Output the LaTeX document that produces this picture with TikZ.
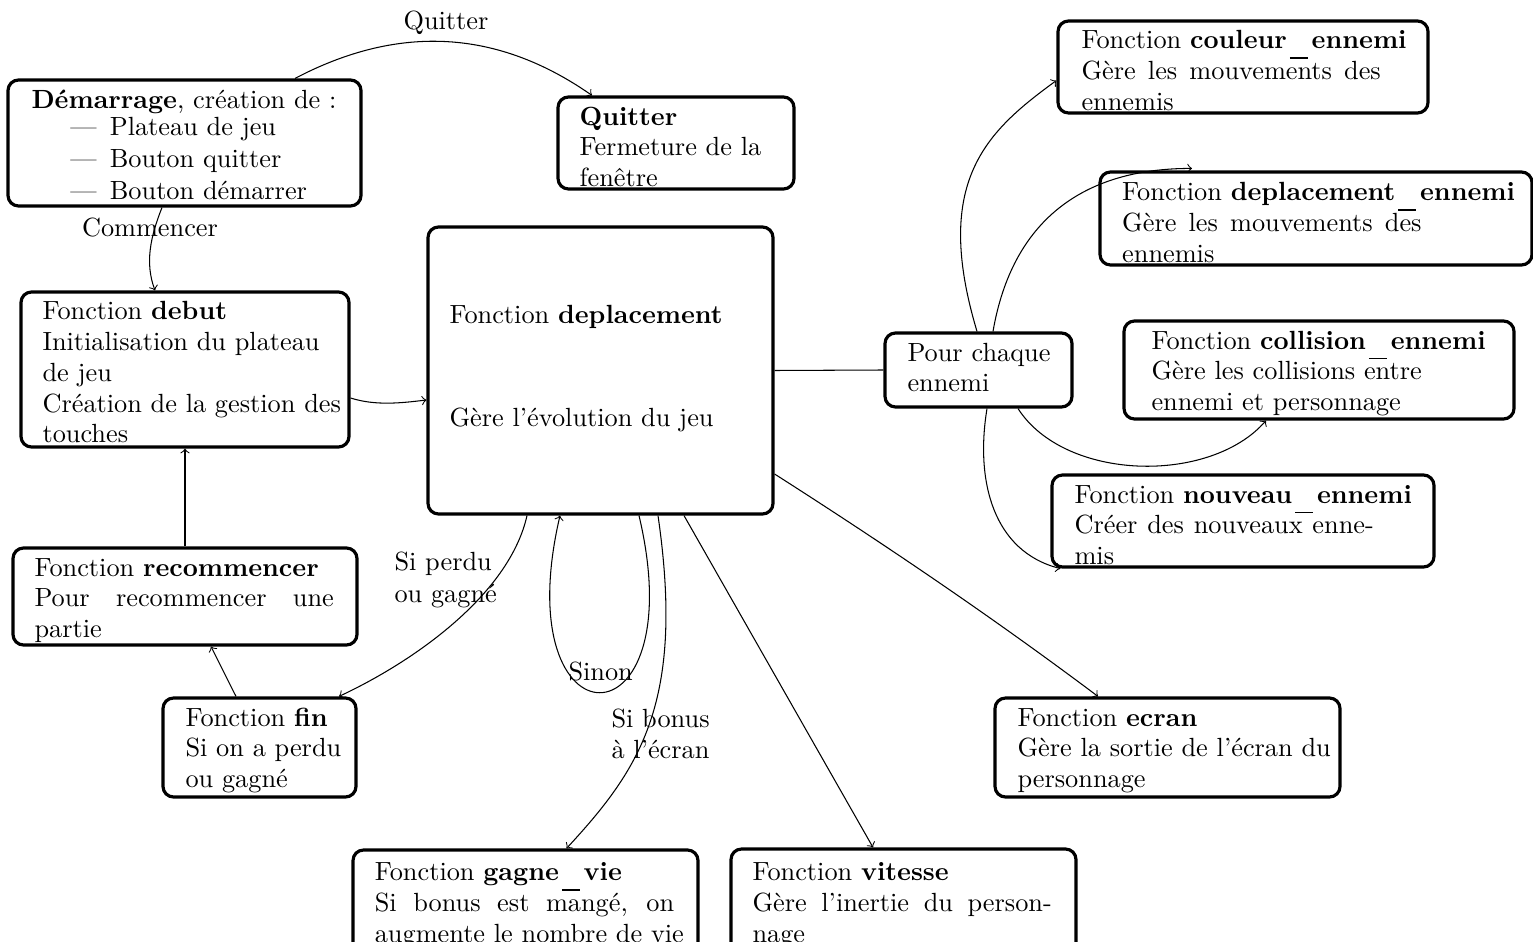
\documentclass[tikz,border=0pt]{standalone}
\usetikzlibrary{fit,calc}
\newcommand{\tstrut}{\rule{0pt}{8pt}}
\newcommand{\sline}[1]{\makebox[4cm][s]{\spaceskip=0pt\xspaceskip=0pt #1}}
\newcommand{\us}{\kern1.1pt\rule[-3.8pt]{6.8pt}{0.6pt}\kern1.5pt}
\begin{document}
\begin{tikzpicture}[x=0.38023pt, y=-0.38023pt,
  box/.style={draw, line width=1.2pt, rounded corners=4pt, inner sep=0pt},
  txt/.style={anchor=north west, inner sep=0pt, text width=10cm, align=left, font=\fontsize{10}{11.7}\selectfont},
  lbl/.style={inner sep=0pt, font=\fontsize{10}{12}\selectfont},
  conn/.style={line width=0.4pt},
  arr/.style={conn, ->}]
\useasboundingbox (0,0) rectangle (1533,942);

% boxes
\node[box, fit={(8,80) (361,206)}] (dem) {};
\node[box, fit={(558,97) (794,189)}] (quit) {};
\node[box, fit={(21,292) (349,447)}] (debut) {};
\node[box, fit={(428,227) (773,514)}] (dep) {};
\node[box, fit={(13,548) (357,645)}] (rec) {};
\node[box, fit={(163,698) (356,797)}] (fin) {};
\node[box, fit={(353,850) (698,955)}] (gagne) {};
\node[box, fit={(731,849) (1076,955)}] (vit) {};
\node[box, fit={(995,698) (1340,797)}] (ecran) {};
\node[box, fit={(885,333) (1072,407)}] (pour) {};
\node[box, fit={(1058,21) (1428,113)}] (coul) {};
\node[box, fit={(1100,172) (1532,265)}] (depen) {};
\node[box, fit={(1124,321) (1514,419)}] (coll) {};
\node[box, fit={(1052,475) (1434,567)}] (nouv) {};

% texts
\node[txt, font=\fontsize{10}{12}\selectfont] (demt) at (31,87.3) {\tstrut\textbf{Démarrage}, création de :\\[-1.7pt]
  \hspace*{14.8pt}---\hspace*{5pt}Plateau de jeu\\
  \hspace*{14.8pt}---\hspace*{5pt}Bouton quitter\\
  \hspace*{14.8pt}---\hspace*{5pt}Bouton démarrer};
\node[txt] (quitt) at (579,103.5) {\tstrut\textbf{Quitter}\\Fermeture de la\\fenêtre};
\node[txt] (debutt) at (42,298.3) {\tstrut Fonction \textbf{debut}\\Initialisation du plateau\\de jeu\\Création de la gestion des\\touches};
\node[txt] (dept) at (449,302) {\tstrut Fonction \textbf{deplacement}\\[27.6pt]Gère l'évolution du jeu};
\node[txt] (rect) at (34,554.6) {\tstrut Fonction \textbf{recommencer}\\\sline{Pour recommencer une}\\partie};
\node[txt] (fint) at (185,704.6) {\tstrut Fonction \textbf{fin}\\Si on a perdu\\ou gagné};
\node[txt] (gagnet) at (374.3,859) {\tstrut Fonction \textbf{gagne\us vie}\\\sline{Si bonus est mangé, on}\\augmente le nombre de vie};
\node[txt] (vitt) at (752,859) {\tstrut Fonction \textbf{vitesse}\\\sline{Gère l'inertie du person-}\\nage};
\node[txt] (ecrant) at (1017,704.6) {\tstrut Fonction \textbf{ecran}\\Gère la sortie de l'écran du\\personnage};
\node[txt] (pourt) at (907,339.6) {\tstrut Pour chaque\\ennemi};
\node[txt] (coult) at (1081,27.3) {\tstrut Fonction \textbf{couleur\us ennemi}\\\sline{Gère les mouvements des}\\ennemis};
\node[txt] (depent) at (1121.7,179) {\tstrut Fonction \textbf{deplacement\us ennemi}\\\sline{Gère les mouvements des}\\ennemis};
\node[txt] (collt) at (1151,327.6) {\tstrut Fonction \textbf{collision\us ennemi}\\Gère les collisions entre\\ennemi et personnage};
\node[txt] (nouvt) at (1074,481.6) {\tstrut Fonction \textbf{nouveau\us ennemi}\\\sline{Créer des nouveaux enne-}\\mis};

% labels
\node[lbl, anchor=base] (lquit) at (446,30) {Quitter};
\node[lbl, anchor=base] (lcomm) at (150,237) {Commencer};
\node[lbl, anchor=north west, align=left] (lperdu) at (394,549) {\tstrut Si perdu\\ou gagné};
\node[lbl, anchor=base west] (lsinon) at (568,680) {Sinon};
\node[lbl, anchor=north west, align=left] (lbonus) at (611,705.7) {\tstrut Si bonus\\à l'écran};

% connectors
\draw[arr] ($(dem.north)+(110.5,0)$) .. controls +(99,-52) and +(-99,-69) .. ($(quit.north)+(-84,0)$);
\draw[arr] ($(dem.south)+(-22.5,0)$) .. controls +(-12,30) and +(-10,-27) .. ($(debut.north)+(-30,0)$);
\draw[arr] ($(debut.east)+(0,28.5)$) .. controls +(25,8) and +(-25,3) .. ($(dep.west)+(0,29.5)$);
\draw[arr] (rec.north) -- (debut.south);
\draw[arr] ($(fin.north)+(-23.5,0)$) -- ($(rec.south)+(26,0)$);
\draw[arr] ($(dep.south)+(-73.5,0)$) .. controls +(-17,76) and +(81,-38) .. ($(fin.north)+(79.5,0)$);
\draw[arr] ($(dep.south)+(38.5,0)$) .. controls +(56,236) and +(-55,236) .. ($(dep.south)+(-40.5,0)$);
\draw[arr] ($(dep.south)+(57.5,0)$) .. controls +(27,186) and +(74,-80) .. ($(gagne.north)+(41,0)$);
\draw[arr] ($(dep.south)+(83.5,0)$) -- ($(vit.north)+(-30.5,0)$);
\draw[arr] ($(dep.east)+(0,103.5)$) .. controls +(108,69) and +(-108,-81) .. ($(ecran.north)+(-69.5,0)$);
\draw[conn] (dep.east) -- (pour.west);
\draw[arr] ($(pour.north)+(-1.5,0)$) .. controls +(-45,-150) and +(-70,51) .. ($(coul.west)+(0,13.5)$);
\draw[arr] ($(pour.north)+(14.5,0)$) .. controls +(19,-110) and +(-110,0) .. ($(depen.north)+(-124,-2)$);
\draw[arr] ($(pour.south)+(39.5,0)$) .. controls +(47,73) and +(-56,64) .. ($(coll.south)+(-53,0)$);
\draw[arr] ($(pour.south)+(8.5,0)$) .. controls +(-12,73) and +(-67,-17) .. ($(nouv.south west)+(10,0)$);
\end{tikzpicture}
\end{document}
